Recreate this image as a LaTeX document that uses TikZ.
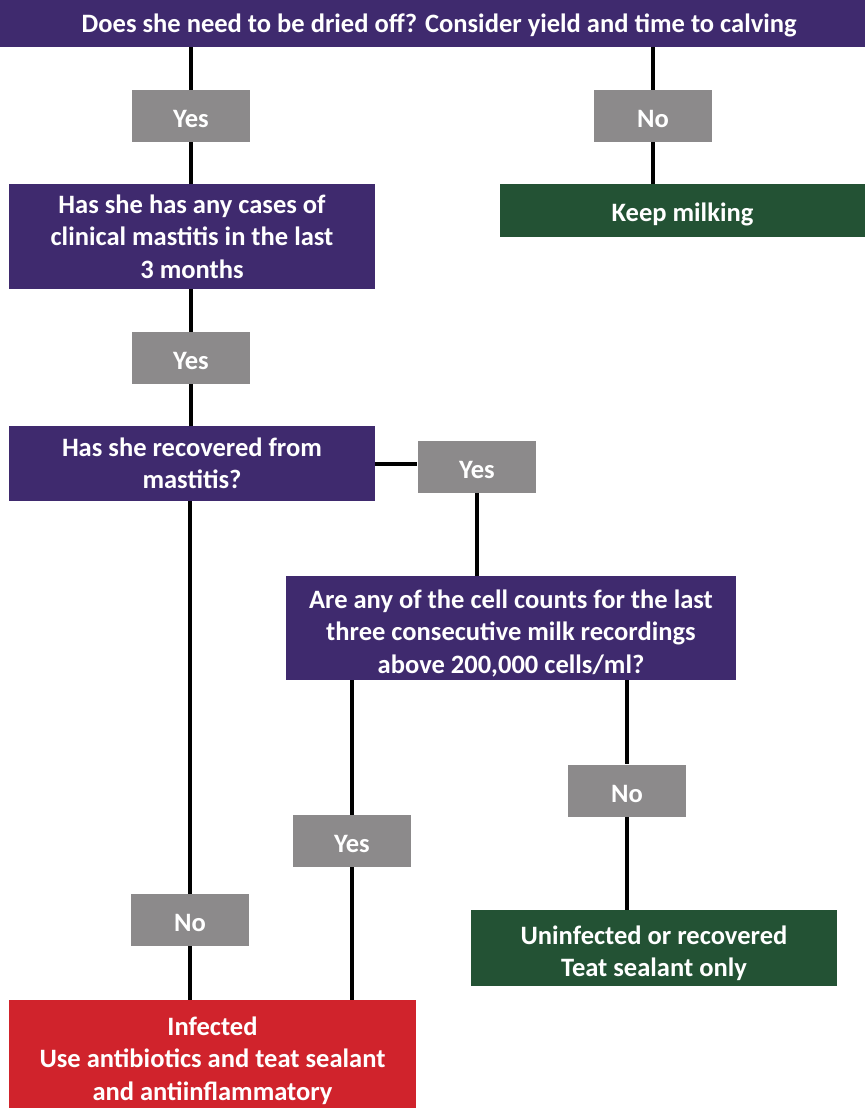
\documentclass[tikz,border=0pt]{standalone}
\usepackage{fontspec}
\setmainfont{Carlito}
\usetikzlibrary{positioning}

\definecolor{askpurple}{RGB}{63,42,110}
\definecolor{answergrey}{RGB}{140,138,139}
\definecolor{okgreen}{RGB}{35,82,52}
\definecolor{badred}{RGB}{208,35,44}

\begin{document}
\begin{tikzpicture}[x=0.75pt,y=-0.75pt,
    sink/.style={execute at begin node={\rule{0pt}{#1}}},
    box/.style={rectangle,inner sep=0pt,text=white,align=center,sink=17.5pt,
        font=\fontsize{19.9}{24.4}\selectfont\bfseries},
    question/.style={box,fill=askpurple},
    answer/.style={box,fill=answergrey,minimum width=89pt,minimum height=39pt},
    verdict/.style={box},
    link/.style={line width=3pt}]
        \useasboundingbox (0,0) rectangle (865,1108);

        % questions
        \node[question,minimum width=648.75pt,minimum height=35.25pt] (dry) at (432.5,23.5)
            {\hspace*{10pt}Does she need to be dried off? Consider yield and time to calving};
        \node[question,minimum width=274.5pt,minimum height=78.75pt] (clin) at (192,236.5)
            {Has she has any cases of\\clinical mastitis in the last\\3 months};
        \node[question,minimum width=274.5pt,minimum height=56.25pt] (recov) at (192,463.5)
            {Has she recovered from\\mastitis?};
        \node[question,minimum width=337.5pt,minimum height=78pt] (cells) at (511,628)
            {\rule{0pt}{22pt}Are any of the cell counts for the last\\three consecutive milk recordings\\above 200,000 cells/ml?};

        % answers
        \node[answer] (yesA) at (191,116) {Yes};
        \node[answer] (noA) at (653,116) {No};
        \node[answer] (yesB) at (191,358) {Yes};
        \node[answer] (yesC) at (477,466.5) {Yes};
        \node[answer] (noC) at (190,920) {No};
        \node[answer] (yesD) at (352,841) {Yes};
        \node[answer] (noD) at (627,790.5) {No};

        % outcomes
        \node[verdict,sink=20.5pt,fill=okgreen,minimum width=273.75pt,minimum height=39.75pt] (keep) at (682.5,210.5)
            {Keep milking};
        \node[verdict,fill=okgreen,minimum width=274.5pt,minimum height=57pt] (clean) at (654,948)
            {\rule{0pt}{22pt}Uninfected or recovered\\Teat sealant only};
        \node[verdict,fill=badred,minimum width=305.25pt,minimum height=81pt] (infect) at (212.5,1054)
            {\rule{0pt}{23.5pt}Infected\\Use antibiotics and teat sealant\\and antiinflammatory};

        \draw[link] (dry.south -| yesA) -- (yesA.north);
        \draw[link] (yesA.south) -- (yesA.south |- clin.north);
        \draw[link] (dry.south -| noA) -- (noA.north);
        \draw[link] (noA.south) -- (noA.south |- keep.north);
        \draw[link] (clin.south -| yesB) -- (yesB.north);
        \draw[link] (yesB.south) -- (yesB.south |- recov.north);
        \draw[link] (recov.east |- 0,464) -- (yesC.west |- 0,464);
        \draw[link] (yesC.south) -- (yesC.south |- cells.north);
        \draw[link] (recov.south -| noC) -- (noC.north);
        \draw[link] (noC.south) -- (noC.south |- infect.north);
        \draw[link] (cells.south -| yesD) -- (yesD.north);
        \draw[link] (yesD.south) -- (yesD.south |- infect.north);
        \draw[link] (cells.south -| noD) -- (noD.north);
        \draw[link] (noD.south) -- (noD.south |- clean.north);
    \end{tikzpicture}
\end{document}
